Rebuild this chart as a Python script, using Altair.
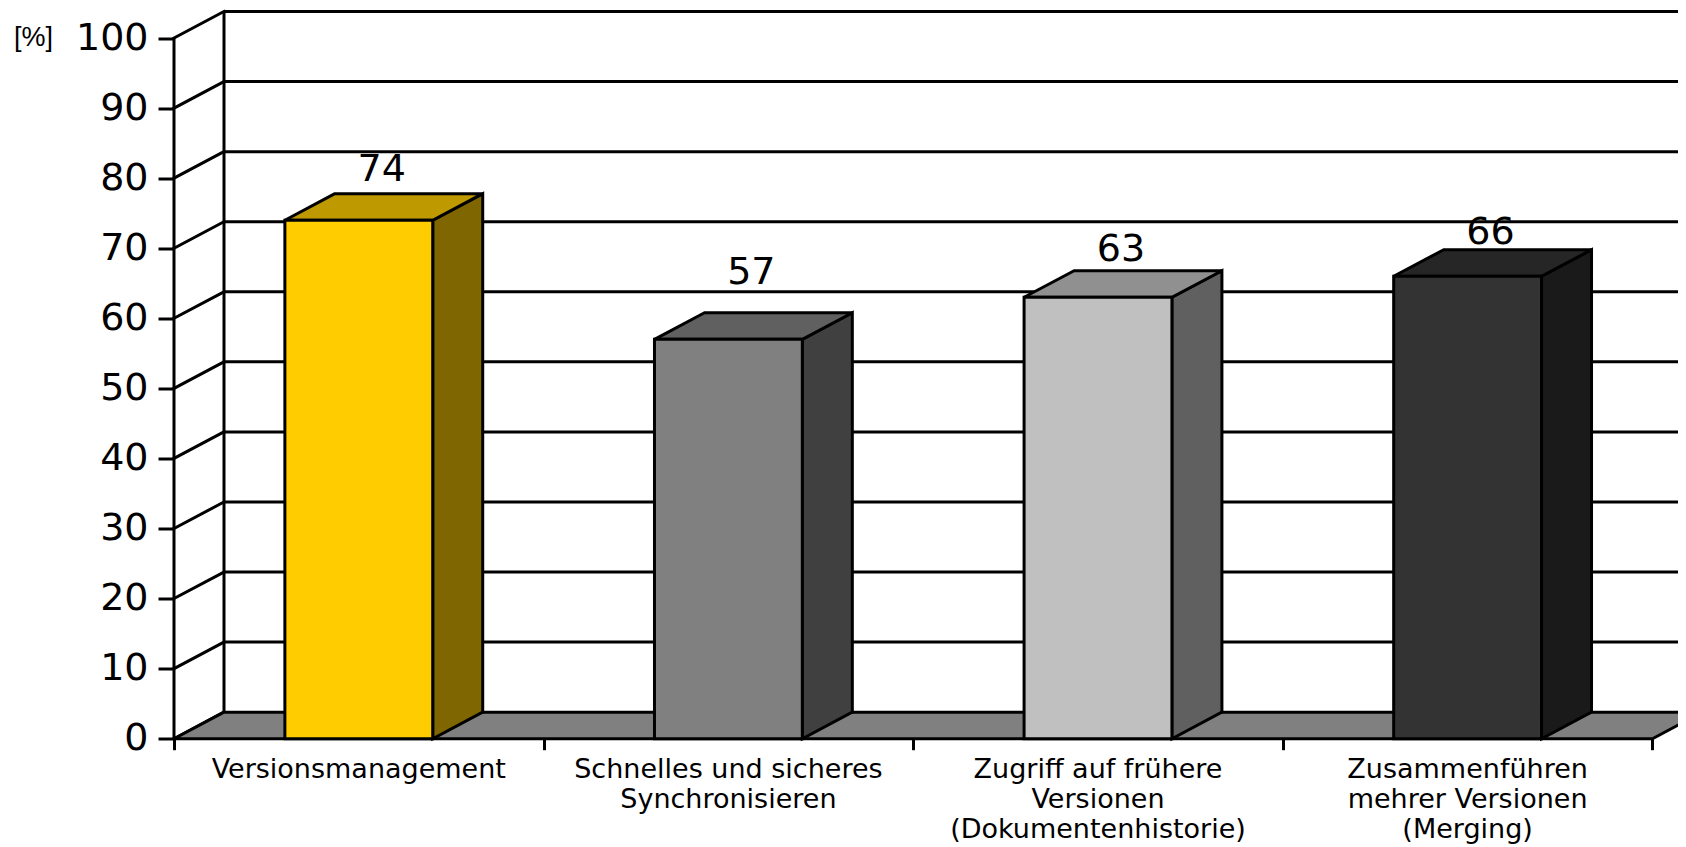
import altair as alt
import pandas as pd

categories = ["Versionsmanagement",
              "Schnelles und sicheres\nSynchronisieren",
              "Zugriff auf frühere\nVersionen\n(Dokumentenhistorie)",
              "Zusammenführen\nmehrer Versionen\n(Merging)"]
values = [74, 57, 63, 66]
front_colors = ["#FFCC00", "#808080", "#C0C0C0", "#333333"]
top_colors = ["#BF9900", "#606060", "#909090", "#262626"]
side_colors = ["#806600", "#404040", "#606060", "#1A1A1A"]
ticks = [0, 10, 20, 30, 40, 50, 60, 70, 80, 90, 100]
label_lift = [7.1, 9.4, 6.8, 6.2]

# depth of the 3D effect, in axis units
DX = 50 / 369.6
DY = 26.6 / 7.017
HALF = 0.2
LABEL_DX = 0.062
X_MAX = 1504 / 369.6
Y_MAX = 100 + DY
LW = 3
FONT = "DejaVu Sans"

xs = alt.Scale(domain=[0, X_MAX], nice=False, zero=False)
ys = alt.Scale(domain=[0, Y_MAX], nice=False, zero=False)
x_axis = alt.Axis(values=list(range(5)), labels=False, domain=False, grid=False, ticks=True,
                  tickColor="black", tickWidth=LW, tickSize=11, title=None)
y_axis = alt.Axis(values=ticks, domain=False, grid=False, tickColor="black", tickWidth=LW, tickSize=16,
                  labelPadding=10, labelFont=FONT, labelFontSize=38, labelColor="black",
                  labelOverlap=False, labelFlush=False, title=None)


def X(f="x"):
    return alt.X(f"{f}:Q", scale=xs, stack=None, axis=x_axis)


def Y(f="y"):
    return alt.Y(f"{f}:Q", scale=ys, stack=None, axis=y_axis)


# slanted lines on the left wall
wall = pd.DataFrame([r for t in ticks for r in ({"t": t, "x": 0, "y": t}, {"t": t, "x": DX, "y": t + DY})])
wall_layer = alt.Chart(wall).mark_line(color="black", strokeWidth=LW, strokeCap="square").encode(
    x=X(), y=Y(), detail="t:N")

grid = pd.DataFrame({"y": [t + DY for t in ticks if t > 0], "x": DX, "x1": 4 + DX})
grid_layer = alt.Chart(grid).mark_rule(color="black", strokeWidth=LW).encode(
    x=X(), x2="x1:Q", y=Y())

walls = pd.DataFrame({"x": [0, DX], "y": [0, DY], "y1": [100, 100 + DY]})
wall_rules = alt.Chart(walls).mark_rule(color="black", strokeWidth=LW).encode(
    x=X(), y=Y(), y2="y1:Q")

floor = pd.DataFrame({"y": [0, DY], "x": [0, DX], "x1": [4, 4 + DX]})
floor_layer = alt.Chart(floor).mark_area(orient="horizontal", fill="#808080", stroke="black",
                                         strokeWidth=LW).encode(
    y=Y(), x=X(), x2="x1:Q")

rows_front, rows_top, rows_side = [], [], []
for i, v in enumerate(values):
    l, r = i + 0.5 - HALF, i + 0.5 + HALF
    rows_front.append({"x": l, "x1": r, "y": 0, "y1": v, "c": front_colors[i]})
    rows_top.append({"y": v, "x": l, "x1": r, "c": top_colors[i]})
    rows_top.append({"y": v + DY, "x": l + DX, "x1": r + DX, "c": top_colors[i]})
    rows_side.append({"x": r, "y": v, "y1": 0, "c": side_colors[i]})
    rows_side.append({"x": r + DX, "y": v + DY, "y1": DY, "c": side_colors[i]})

col = alt.Color("c:N", scale=None, legend=None)
side_layer = alt.Chart(pd.DataFrame(rows_side)).mark_area(orient="vertical", stroke="black", strokeWidth=LW).encode(
    x=X(), y=Y(), y2="y1:Q", color=col)
top_layer = alt.Chart(pd.DataFrame(rows_top)).mark_area(orient="horizontal", stroke="black", strokeWidth=LW).encode(
    y=Y(), x=X(), x2="x1:Q", color=col)
front_layer = alt.Chart(pd.DataFrame(rows_front)).mark_rect(stroke="black", strokeWidth=LW).encode(
    x=X(), x2="x1:Q", y=Y(), y2="y1:Q", color=col)

vals = pd.DataFrame({"x": [i + 0.5 + LABEL_DX for i in range(4)],
                     "y": [v + d for v, d in zip(values, label_lift)],
                     "t": [str(v) for v in values]})
val_text = alt.Chart(vals).mark_text(font=FONT, fontSize=38, color="black", baseline="middle", align="center").encode(
    x=X(), y=Y(), text="t:N")

cats = pd.DataFrame({"x": [i + 0.5 for i in range(4)], "t": categories})
cat_text = alt.Chart(cats).mark_text(font=FONT, fontSize=27, color="black", baseline="top", align="center",
                                     lineBreak="\n", lineHeight=30).encode(
    x=X(), y=alt.value(745), text="t:N")

pct = alt.Chart(pd.DataFrame({"t": ["[%]"]})).mark_text(font="Liberation Sans", fontSize=27, color="black",
                                                       baseline="middle", align="center").encode(
    x=alt.value(33.5 - 174), y=alt.value(38 - 11.5), text="t:N")

chart = alt.layer(wall_layer, floor_layer, grid_layer, wall_rules, side_layer, top_layer, front_layer,
                  val_text, cat_text, pct).properties(
    width=1504, height=727.2,
    autosize=alt.AutoSizeParams(type="none"),
    padding={"left": 166, "top": 3.5, "right": 0, "bottom": 108.3},
    background="white",
).configure_view(stroke=None)

chart.save("out.html", embed_options={"renderer": "svg", "actions": False})
